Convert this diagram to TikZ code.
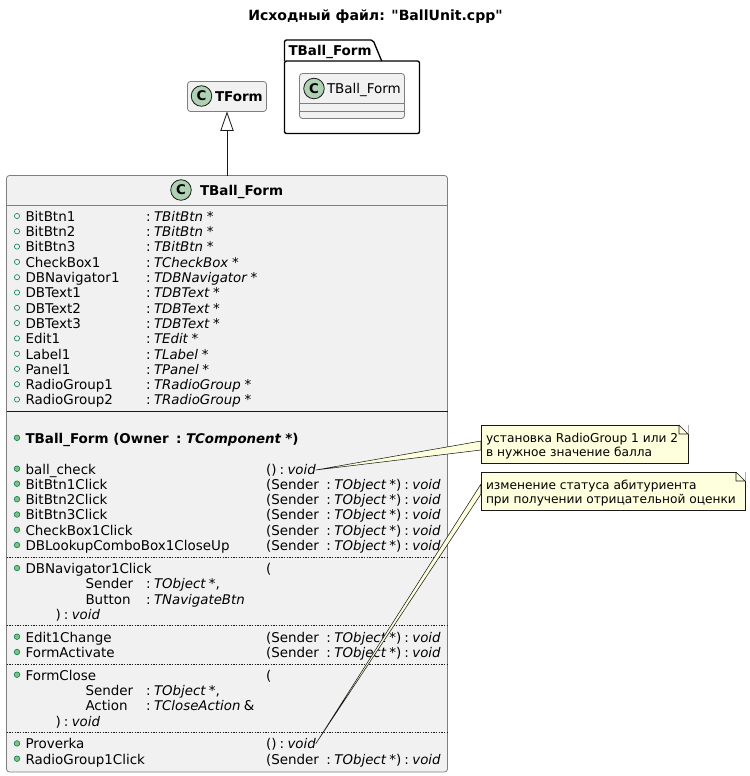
\documentclass[tikz,border=0pt]{standalone}
\usepackage{fontspec}
\setmainfont{DejaVu Sans}[Ligatures=TeXOff]
\usetikzlibrary{arrows.meta}
\definecolor{boxFill}{HTML}{F1F1F1}
\definecolor{boxLine}{HTML}{7F7F7F}
\definecolor{inkLine}{HTML}{181818}
\definecolor{iconFill}{HTML}{ADD1B2}
\definecolor{noteFill}{HTML}{FEFFDD}
\definecolor{memberGreen}{HTML}{038048}
\definecolor{memberFill}{HTML}{84BE84}
\newcommand{\typeName}[1]{{\fontsize{10}{12}\selectfont\itshape #1}}
\newcommand{\retVoid}{\kern2.3pt:\kern2.6pt\typeName{void}}
\newcommand{\senderArg}{(Sender\kern5.6pt:\kern2.6pt\typeName{TObject}\kern2.5pt*)\retVoid}
\begin{document}
\begin{tikzpicture}
[x=0.75pt,y=-0.75pt,
  classDecorate/.style={shape=rectangle,anchor=north west,draw=boxLine,fill=boxFill,line width=0.6pt,rounded corners=2.2pt,inner sep=0pt,outer sep=0pt},%
  iconDecorate/.style={shape=circle,draw=inkLine,fill=iconFill,line width=0.6pt,minimum size=15.4pt,inner sep=0pt,font=\fontsize{10}{10}\selectfont\bfseries},%
  rowText/.style={anchor=base west,inner sep=0pt,outer sep=0pt,text=black,font=\fontsize{10.1}{12}\selectfont},%
  boldText/.style={rowText,font=\fontsize{10.1}{12}\selectfont\bfseries},%
  noteText/.style={rowText,font=\fontsize{9.15}{12}\selectfont},%
  attrBullet/.style={shape=circle,draw=memberGreen,line width=0.45pt,minimum size=3.9pt,inner sep=0pt},%
  methodBullet/.style={shape=circle,draw=memberGreen,fill=memberFill,line width=0.45pt,minimum size=4.2pt,inner sep=0pt},%
  noteDecorate/.style={shape=rectangle,anchor=north west,draw=inkLine,fill=noteFill,line width=0.4pt,inner sep=0pt,outer sep=0pt,text width=0pt},%
  noteLink/.style={draw=inkLine,fill=noteFill,line width=0.4pt,line join=round},%
  lineDecorate/.style={draw=inkLine,line width=0.6pt},%
  dotLine/.style={draw=inkLine,line width=0.5pt,dash pattern=on 1pt off 1pt}]
\useasboundingbox (0,0) rectangle (750,776);
\node (titleText) at (375.5,17) [font=\fontsize{10.55}{12}\selectfont\bfseries,inner sep=0pt] {Исходный файл: "BallUnit.cpp"};
%% package with its small class
\node (packBody) at (284.5,61) [shape=rectangle,anchor=north west,draw=black,line width=1pt,rounded corners=1.5pt,inner sep=0pt,outer sep=0pt,minimum width=135*0.75pt,minimum height=72.5*0.75pt] {};
\draw[draw=black,line width=1pt,line join=round] (packBody.north west) -- (284.5,42) [rounded corners=1.5pt] -- (284.5,40) -- (373,40) -- (381.7,61);
\node (packLabel) at (288.5,55.5) [boldText] {TBall\_Form};
\node (smallForm) at (299.5,73.5) [classDecorate,minimum width=105*0.75pt,minimum height=45*0.75pt] {};
\draw[boxLine,line width=0.6pt] (299.5,103) -- (404.5,103) (299.5,111) -- (404.5,111);
\node (smallIcon) at (314,88.5) [iconDecorate] {C};
\node (smallText) at (327,93.5) [rowText] {TBall\_Form};
%% parent class
\node (tForm) at (187.5,81.5) [classDecorate,minimum width=79*0.75pt,minimum height=30*0.75pt] {};
\node (tFormIcon) at (201.5,96) [iconDecorate] {C};
\node (tFormText) at (215,101) [boldText] {TForm};
%% main class
\node (ballForm) at (6.5,175.5) [classDecorate,minimum width=441*0.75pt,minimum height=596.5*0.75pt] {};
\node (ballIcon) at (181,190) [iconDecorate] {C};
\node (ballText) at (200,195.5) [boldText] {TBall\_Form};
\draw[-{Triangle[open,length=14.6pt,width=10pt,fill=white]},inkLine,line width=0.6pt] (ballForm.north) -- (tForm.south);
%% separators
\draw[boxLine,line width=0.6pt] (6.5,205) -- (447.5,205);
\draw[lineDecorate] (6.5,411) -- (447.5,411);
\foreach \y in {557.5,625.5,664,732.5}
{
  \draw[dotLine] (6.5,\y) -- (447.5,\y);
}
%% attributes
\foreach \nodename/\attrtype/\y in {
  BitBtn1/TBitBtn/221.3, BitBtn2/TBitBtn/236.6, BitBtn3/TBitBtn/251.9,
  CheckBox1/TCheckBox/267.2, DBNavigator1/TDBNavigator/282.5, DBText1/TDBText/297.8,
  DBText2/TDBText/313.1, DBText3/TDBText/328.4, Edit1/TEdit/343.7, Label1/TLabel/359,
  Panel1/TPanel/374.2, RadioGroup1/TRadioGroup/389.5, RadioGroup2/TRadioGroup/404.8}
{
  \node (bullet\nodename) at (17,\y-5.3) [attrBullet] {};
  \node (\nodename) at (25.5,\y) [rowText] {\nodename};
  \node (type\nodename) at (146,\y) [rowText] {:\kern2.6pt\typeName{\attrtype}\kern2.8pt*};
}
%% constructor
\node (bulletCtor) at (17,437.8) [methodBullet] {};
\node (ctorText) at (25.5,443.3) [boldText] {TBall\_Form (Owner\kern5.6pt:\kern3.4pt{\fontsize{10}{12}\selectfont\itshape TComponent}\kern3.2pt*)};
%% methods
\foreach \nodename/\nodetext/\y in {
  ballCheck/ball\_check/474, BitBtn1Click/BitBtn1Click/489, BitBtn2Click/BitBtn2Click/504.5,
  BitBtn3Click/BitBtn3Click/519.8, CheckBox1Click/CheckBox1Click/535,
  DBLookupComboBox1CloseUp/DBLookupComboBox1CloseUp/550.3, DBNavigator1Click/DBNavigator1Click/573.3,
  Edit1Change/Edit1Change/642, FormActivate/FormActivate/657.3, FormClose/FormClose/680,
  Proverka/Proverka/748.7, RadioGroup1Click/RadioGroup1Click/764}
{
  \node (bullet\nodename) at (17,\y-5.3) [methodBullet] {};
  \node (\nodename) at (25.5,\y) [rowText] {\nodetext};
}
%% signatures
\foreach \nodename/\y in {
  BitBtn1Click/489, BitBtn2Click/504.5, BitBtn3Click/519.8, CheckBox1Click/535,
  DBLookupComboBox1CloseUp/550.3, Edit1Change/642, FormActivate/657.3, RadioGroup1Click/764}
{
  \node (sig\nodename) at (266,\y) [rowText] {\senderArg};
}
\node (sigBallCheck) at (266,474) [rowText] {()\retVoid};
\node (sigProverka) at (266,748.7) [rowText] {()\retVoid};
\node (openNavigator) at (266,573.3) [rowText] {(};
\node (openClose) at (266,680) [rowText] {(};
%% multi line arguments
\foreach \nodename/\argname/\argtype/\y in {
  navSender/Sender/\typeName{TObject}\kern2.5pt*{,}/588.7, navButton/Button/\typeName{TNavigateBtn}/604,
  closeSender/Sender/\typeName{TObject}\kern2.5pt*{,}/695.3, closeAction/Action/\typeName{TCloseAction}\kern2.5pt\&/710.6}
{
  \node (\nodename) at (85.5,\y) [rowText] {\argname};
  \node (type\nodename) at (146,\y) [rowText] {:\kern2.6pt\argtype};
}
\node (endNavigator) at (55.5,619.3) [rowText] {)\retVoid};
\node (endClose) at (55.5,726) [rowText] {)\retVoid};
%% notes
\filldraw[noteLink] (sigBallCheck.base east) ++(0,-4) -- (481,441) -- (481,450) -- cycle;
\filldraw[noteLink] (sigProverka.base east) ++(0,-5) -- (481,484) -- (481,494) -- cycle;
\node (noteBall) at (481,425) [noteDecorate,minimum width=207*0.75pt,minimum height=38*0.75pt] {};
\node (noteStatus) at (481,472) [noteDecorate,minimum width=264*0.75pt,minimum height=38*0.75pt] {};
\foreach \nodename in {noteBall,noteStatus}
{
  \fill[white] (\nodename.north east) ++(-9,-0.5) -- ++(9.5,0) -- ++(0,9.5) -- cycle;
  \draw[draw=inkLine,line width=0.4pt,fill=noteFill,line join=round] (\nodename.north east) ++(-9,0) -- ++(0,9) -- ++(9,0) -- cycle;
}
\node (noteBallA) at (486,442) [noteText] {установка RadioGroup 1 или 2};
\node (noteBallB) at (486,456.5) [noteText] {в нужное значение балла};
\node (noteStatusA) at (486,489) [noteText] {изменение статуса абитуриента};
\node (noteStatusB) at (486,503.5) [noteText] {при получении отрицательной оценки};
\end{tikzpicture}
\end{document}
